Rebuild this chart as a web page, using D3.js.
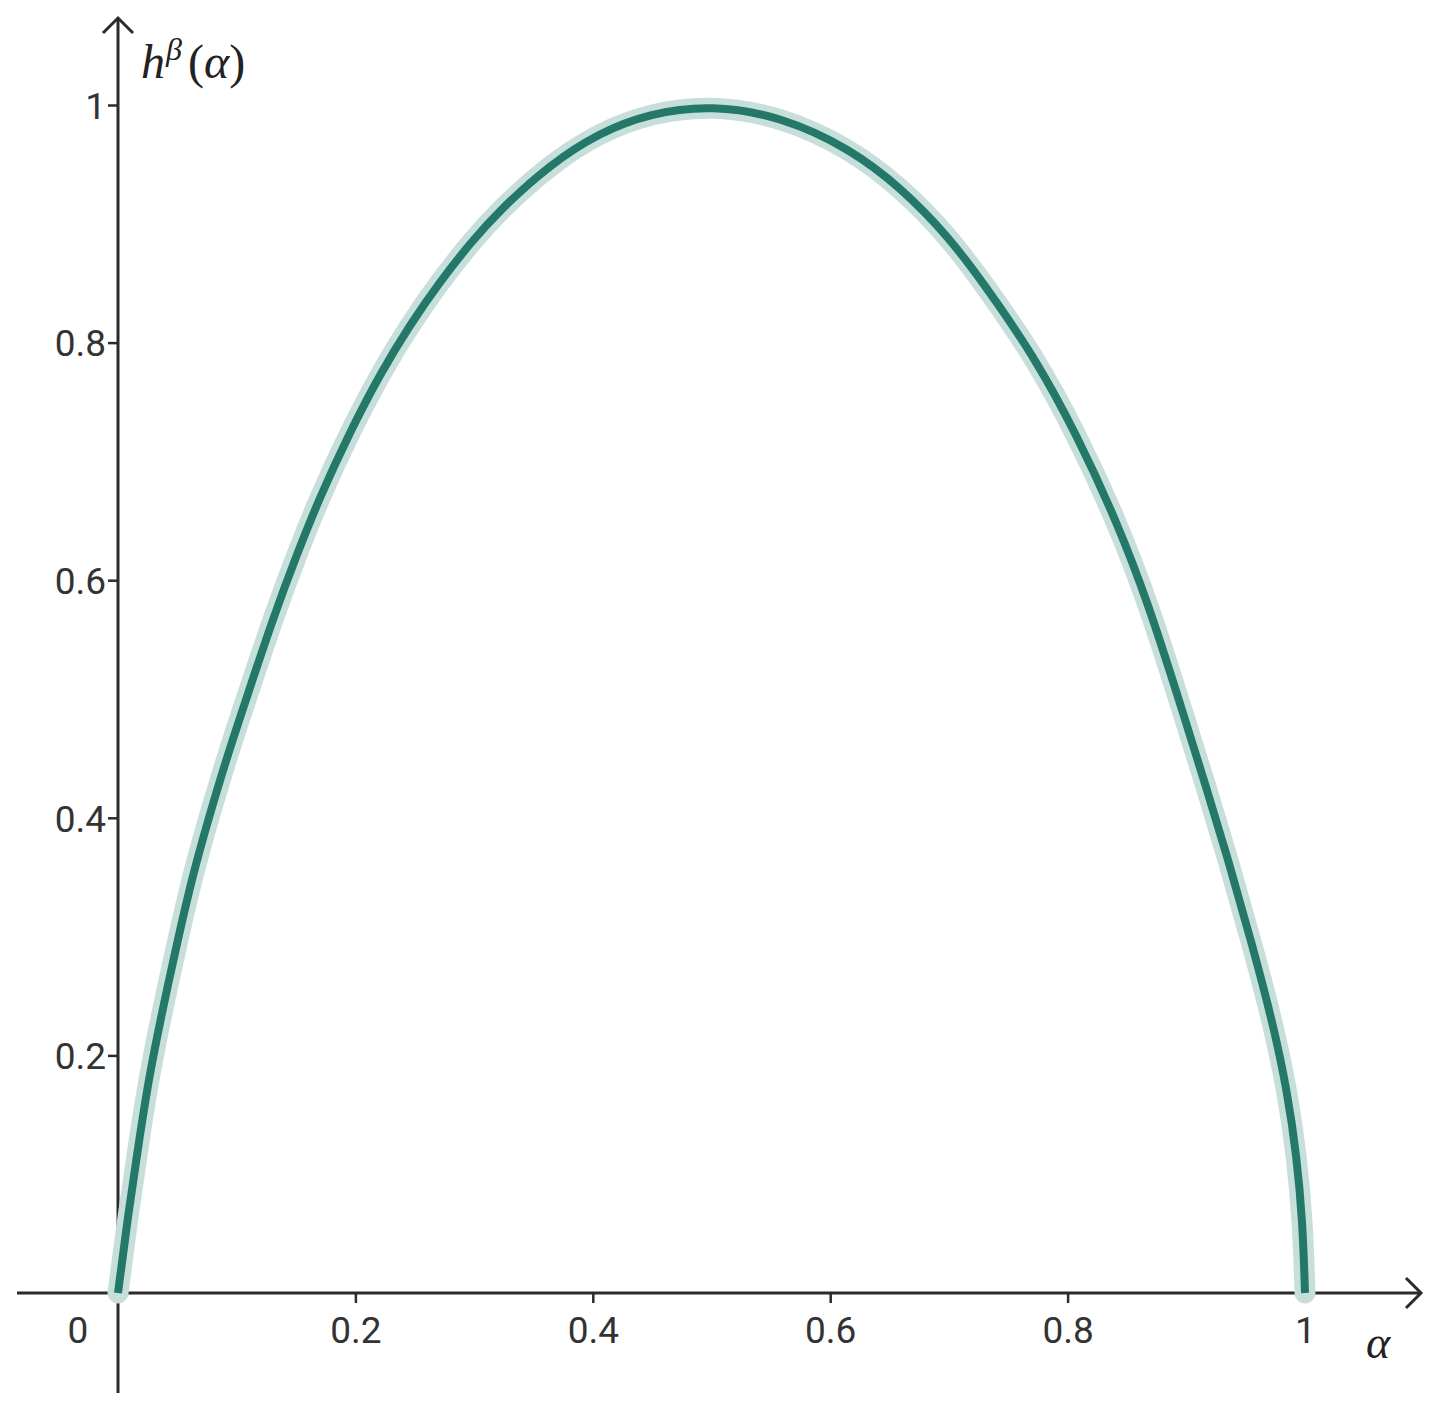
<!DOCTYPE html>
<html>
<head>
<meta charset="utf-8">
<script src="https://cdn.jsdelivr.net/npm/d3@7"></script>
<style>
  body { margin: 0; background: #fff; }
  .tick text { font-family: Roboto, "Noto Sans", sans-serif; fill: #333; }
</style>
</head>
<body>
<svg id="chart"></svg>
<script>
// values
var alphaVals = [0, 0.0087, 0.017, 0.0256, 0.037, 0.049, 0.062, 0.075, 0.092, 0.109, 0.131, 0.150, 0.170, 0.195, 0.221,
                 0.246, 0.271, 0.297, 0.322, 0.364, 0.406, 0.448, 0.500, 0.560, 0.617, 0.659, 0.700, 0.729, 0.771, 0.808,
                 0.842, 0.868, 0.892, 0.917, 0.936, 0.955, 0.973, 0.985, 0.993, 0.998, 1.0];
var hVals = [0, 0.067, 0.123, 0.179, 0.236, 0.291, 0.348, 0.395, 0.452, 0.503, 0.569, 0.620, 0.670, 0.724, 0.774,
             0.815, 0.851, 0.884, 0.912, 0.950, 0.977, 0.993, 1.0, 0.990, 0.963, 0.931, 0.889, 0.850, 0.790, 0.722,
             0.648, 0.580, 0.505, 0.425, 0.362, 0.295, 0.227, 0.170, 0.115, 0.060, 0];
var xTicks = [0.2, 0.4, 0.6, 0.8, 1];
var yTicks = [0.2, 0.4, 0.6, 0.8, 1];
var xLabels = ["0.2", "0.4", "0.6", "0.8", "1"];
var yLabels = ["0.2", "0.4", "0.6", "0.8", "1"];

var width = 1434, height = 1409;
var svg = d3.select("#chart").attr("width", width).attr("height", height);

var x = d3.scaleLinear().domain([0, 1]).range([118, 1305]);
var y = d3.scaleLinear().domain([0, 1]).range([1293, 105]);

// axis extents (beyond the data domain, as in the picture)
var xMin = x.invert(17), xMax = x.invert(1421);
var yMin = y.invert(1393), yMax = y.invert(18);

var axisCol = "#2b2b2b";

// y ticks
var gy = svg.append("g")
    .attr("transform", "translate(" + x(0) + ",0)")
    .call(d3.axisLeft(y).tickValues(yTicks).tickSize(10).tickPadding(2)
        .tickFormat(function(d, i) { return yLabels[i]; }));
gy.select(".domain").remove();
gy.selectAll(".tick line").attr("stroke", axisCol).attr("stroke-width", 2.5);
gy.selectAll(".tick text").style("font-size", "37px").attr("dy", "0.36em");

// x ticks
var gx = svg.append("g")
    .attr("transform", "translate(0," + y(0) + ")")
    .call(d3.axisBottom(x).tickValues(xTicks).tickSize(10).tickPadding(14)
        .tickFormat(function(d, i) { return xLabels[i]; }));
gx.select(".domain").remove();
gx.selectAll(".tick line").attr("stroke", axisCol).attr("stroke-width", 2.5);
gx.selectAll(".tick text").style("font-size", "37px");

// origin label
svg.append("text")
    .attr("x", x(0) - 40)
    .attr("y", y(0) + 50)
    .attr("text-anchor", "middle")
    .style("font-family", "Roboto, sans-serif")
    .style("font-size", "37px")
    .style("fill", "#333")
    .text("0");

// axis lines
svg.append("line")
    .attr("x1", x(xMin)).attr("x2", x(xMax))
    .attr("y1", y(0)).attr("y2", y(0))
    .attr("stroke", axisCol).attr("stroke-width", 3);
svg.append("line")
    .attr("x1", x(0)).attr("x2", x(0))
    .attr("y1", y(yMin)).attr("y2", y(yMax))
    .attr("stroke", axisCol).attr("stroke-width", 3);

// arrow heads
svg.append("path")
    .attr("d", "M" + (x(xMax) - 15) + "," + (y(0) - 15) + "L" + x(xMax) + "," + y(0) + "L" + (x(xMax) - 15) + "," + (y(0) + 15))
    .attr("fill", "none").attr("stroke", axisCol).attr("stroke-width", 3);
svg.append("path")
    .attr("d", "M" + (x(0) - 15) + "," + (y(yMax) + 15) + "L" + x(0) + "," + y(yMax) + "L" + (x(0) + 15) + "," + (y(yMax) + 15))
    .attr("fill", "none").attr("stroke", axisCol).attr("stroke-width", 3);

// axis titles
var yTitle = svg.append("text")
    .attr("x", 141).attr("y", 78)
    .style("font-family", "'Liberation Serif', serif")
    .style("font-style", "italic")
    .style("font-size", "48px")
    .style("fill", "#222");
yTitle.append("tspan").text("h");
yTitle.append("tspan").attr("dy", -18).attr("dx", 1).style("font-size", "32px").text("β");
yTitle.append("tspan").attr("dy", 18).attr("dx", 6).style("font-style", "normal").text("(");
yTitle.append("tspan").text("α");
yTitle.append("tspan").style("font-style", "normal").text(")");

svg.append("text")
    .attr("x", 1378).attr("y", 1358)
    .attr("text-anchor", "middle")
    .style("font-family", "'Liberation Serif', serif")
    .style("font-style", "italic")
    .style("font-size", "46px")
    .style("fill", "#222")
    .text("α");

// curve
var data = alphaVals.map(function(a, i) { return { a: a, h: hVals[i] }; });
var line = d3.line()
    .curve(d3.curveBasis)
    .x(function(d) { return x(d.a); })
    .y(function(d) { return y(d.h); });

svg.append("path")
    .datum(data)
    .attr("d", line)
    .attr("fill", "none")
    .attr("stroke", "#c7dfdb")
    .attr("stroke-width", 21)
    .attr("stroke-linecap", "round")
    .attr("stroke-linejoin", "round");

svg.append("path")
    .datum(data)
    .attr("d", line)
    .attr("fill", "none")
    .attr("stroke", "#24786a")
    .attr("stroke-width", 8)
    .attr("stroke-linejoin", "round");
</script>
</body>
</html>
